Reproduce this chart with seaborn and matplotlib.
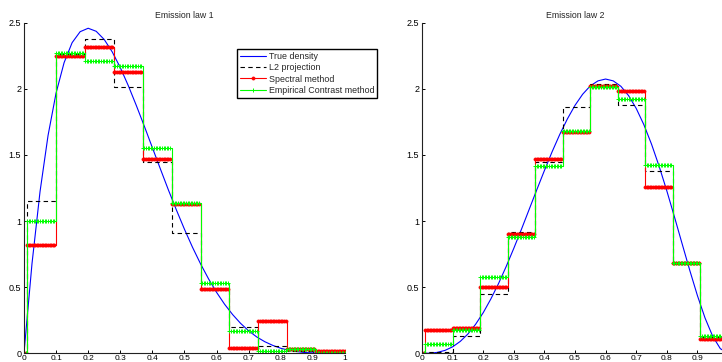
import numpy as np
import matplotlib.pyplot as plt
import seaborn as sns

# bin edges shared by every estimator (first bin [0, 0.01] is empty)
edges = [0.0, 0.01, 0.1, 0.19, 0.28, 0.37, 0.46, 0.55, 0.64, 0.73, 0.82, 0.91, 1.0]

# emission law 1, one value per bin
l2_law1 = [0, 1.15, 2.26, 2.38, 2.01, 1.45, 0.91, 0.48, 0.20, 0.055, 0.02, 0.005]
spectral_law1 = [0, 0.82, 2.25, 2.32, 2.13, 1.47, 1.13, 0.49, 0.04, 0.245, 0.03, 0.015]
contrast_law1 = [0, 1.0, 2.27, 2.21, 2.17, 1.55, 1.14, 0.53, 0.17, 0.02, 0.03, 0.0]

# emission law 2
l2_law2 = [0, 0.01, 0.134, 0.45, 0.92, 1.45, 1.86, 2.035, 1.875, 1.375, 0.68, 0.12]
spectral_law2 = [0, 0.18, 0.19, 0.50, 0.90, 1.47, 1.67, 2.025, 1.98, 1.26, 0.68, 0.11]
contrast_law2 = [0, 0.07, 0.175, 0.58, 0.88, 1.42, 1.68, 2.01, 1.92, 1.425, 0.68, 0.13]

dens_x = [0, 0.025, 0.05, 0.075, 0.1, 0.125, 0.15, 0.175, 0.2, 0.225,
          0.25, 0.275, 0.3, 0.325, 0.35, 0.375, 0.4, 0.425, 0.45, 0.475,
          0.5, 0.525, 0.55, 0.575, 0.6, 0.625, 0.65, 0.675, 0.7, 0.725,
          0.75, 0.775, 0.8, 0.825, 0.85, 0.875, 0.9, 0.925, 0.95, 0.975, 1.0]
true_law1 = [0, 0.678, 1.222, 1.647, 1.968, 2.198, 2.349, 2.432, 2.458, 2.435,
             2.373, 2.279, 2.161, 2.024, 1.874, 1.717, 1.555, 1.394, 1.235, 1.083,
             0.938, 0.802, 0.677, 0.563, 0.461, 0.371, 0.293, 0.226, 0.170, 0.124,
             0.088, 0.060, 0.038, 0.023, 0.013, 0.006, 0.003, 0.001, 0.0, 0.0, 0.0]
true_law2 = [0, 0.001, 0.007, 0.022, 0.049, 0.090, 0.146, 0.219, 0.307, 0.411,
             0.527, 0.656, 0.794, 0.938, 1.087, 1.236, 1.382, 1.523, 1.654, 1.772,
             1.875, 1.959, 2.022, 2.060, 2.074, 2.060, 2.019, 1.949, 1.852, 1.729,
             1.582, 1.414, 1.229, 1.032, 0.829, 0.628, 0.437, 0.267, 0.129, 0.035, 0.0]

labels = ["True density", "L2 projection", "Spectral method", "Empirical Contrast method"]
xtick_labels = ['0', '0.1', '0.2', '0.3', '0.4', '0.5', '0.6', '0.7', '0.8', '0.9', '1']
ytick_labels = ['0', '0.5', '1', '1.5', '2', '2.5']

sns.set_style("ticks")
plt.rcParams['font.family'] = ['Liberation Sans', 'DejaVu Sans']

# the estimators were evaluated on a fine grid, hence the dense markers
grid = np.round(np.arange(0, 201) * 0.005, 3)


def on_grid(vals):
    idx = np.clip(np.searchsorted(edges, grid, side='right') - 1, 0, len(vals) - 1)
    return np.asarray(vals)[idx]


def draw(ax, true_y, l2, spec, contr, title, xlabels):
    sns.lineplot(x=dens_x, y=true_y, ax=ax, color='#0000ff', lw=0.8, errorbar=None)
    sns.lineplot(x=edges, y=l2 + [l2[-1]], ax=ax, color='black', lw=0.8,
                 linestyle=(0, (4, 3)), drawstyle='steps-post', errorbar=None)
    sns.lineplot(x=grid, y=on_grid(spec), ax=ax, color='#ff0000', lw=0.8,
                 drawstyle='steps-post', marker='.', markersize=4.5,
                 markeredgecolor='#ff0000', markeredgewidth=0.5, errorbar=None)
    sns.lineplot(x=grid, y=on_grid(contr), ax=ax, color='#00ff00', lw=0.8,
                 drawstyle='steps-post', marker='+', markersize=2.4,
                 markeredgecolor='#00ff00', markeredgewidth=0.7, errorbar=None)
    ax.set_xlim(0, 1)
    ax.set_ylim(0, 2.5)
    ax.set_xticks([0, 0.1, 0.2, 0.3, 0.4, 0.5, 0.6, 0.7, 0.8, 0.9, 1])
    ax.set_xticklabels(xlabels)
    ax.set_yticks([0, 0.5, 1, 1.5, 2, 2.5])
    ax.set_yticklabels(ytick_labels)
    ax.tick_params(direction='in', length=2.2, width=0.7, pad=2, colors='black')
    ax.tick_params(axis='y', labelsize=6.5)
    ax.tick_params(axis='x', labelsize=6, pad=1.5)
    for s in ['left', 'bottom']:
        ax.spines[s].set_color('#222222')
        ax.spines[s].set_linewidth(0.8)
    sns.despine(ax=ax)
    ax.set_title(title, fontsize=6.3, pad=3.5)
    if ax.get_legend() is not None:
        ax.get_legend().remove()


fig = plt.figure(figsize=(7.22, 3.62), dpi=100)
ax1 = fig.add_axes([0.0332, 0.0240, 0.4446, 0.9133])
ax2 = fig.add_axes([0.5845, 0.0240, 0.4238, 0.9133])

draw(ax1, true_law1, l2_law1, spectral_law1, contrast_law1, "Emission law 1", xtick_labels)
# the right panel runs past the figure edge, its last label is not shown
draw(ax2, true_law2, l2_law2, spectral_law2, contrast_law2, "Emission law 2",
     xtick_labels[:-1] + [''])

leg = ax1.legend(ax1.get_lines()[:4], labels, loc='upper left',
                 bbox_to_anchor=(236.7 / 722, 1 - 49 / 362), bbox_transform=fig.transFigure,
                 fontsize=6.4, numpoints=1, handlelength=3.0, handletextpad=0.25,
                 labelspacing=0.25, borderpad=0.35, borderaxespad=0, fancybox=False)
leg.get_frame().set_edgecolor('black')
leg.get_frame().set_linewidth(1.0)
leg.get_frame().set_alpha(1)

fig.savefig('out.png', dpi=100)
